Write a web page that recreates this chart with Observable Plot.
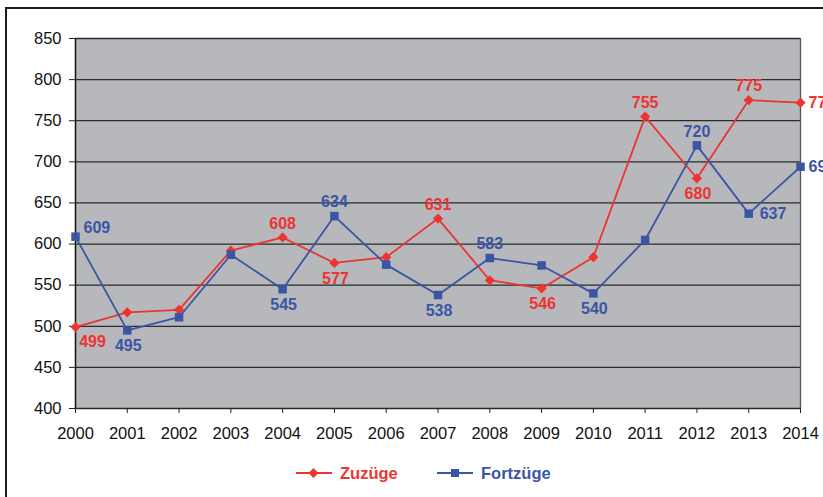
<!DOCTYPE html>
<html>
<head>
<meta charset="utf-8">
<script src="https://cdn.jsdelivr.net/npm/d3@7"></script>
<script src="https://cdn.jsdelivr.net/npm/@observablehq/plot@0.6"></script>
<style>
  html, body { margin: 0; padding: 0; background: #fff; overflow: hidden; }
  #wrap { position: relative; width: 823px; height: 497px; overflow: hidden; font-family: "Liberation Sans", Arial, sans-serif; }
  #frame { position: absolute; left: 5px; top: 7px; width: 2000px; height: 2000px; border-left: 2px solid #1a1a1a; border-top: 2px solid #1a1a1a; box-sizing: border-box; }
  #chart { position: absolute; left: 0; top: 0; }
  #legend { position: absolute; top: 461px; left: 0; width: 823px; height: 24px; }
  .item { position: absolute; top: 0; display: flex; align-items: center; font-weight: bold; font-size: 16.5px; }
  .item svg { margin-right: 8px; }
</style>
</head>
<body>
<div id="wrap">
  <div id="frame"></div>
  <div id="chart"></div>
  <div id="legend"></div>
</div>
<script>
// ---- data ----
const years = [2000, 2001, 2002, 2003, 2004, 2005, 2006, 2007, 2008, 2009, 2010, 2011, 2012, 2013, 2014];
const zuzuege = [499, 517, 520, 592, 608, 577, 584, 631, 556, 546, 584, 755, 680, 775, 772];
const fortzuege = [609, 495, 511, 587, 545, 634, 575, 538, 583, 574, 540, 605, 720, 637, 694];
const yTicks = [400, 450, 500, 550, 600, 650, 700, 750, 800, 850];
const seriesNames = ["Zuzüge", "Fortzüge"];
// years whose value is printed, per series
const zuzLabelled = [2000, 2004, 2005, 2007, 2009, 2011, 2012, 2013, 2014];
const fortLabelled = [2000, 2001, 2004, 2005, 2007, 2008, 2010, 2012, 2013, 2014];

// ---- styles ----
const RED = "#ec3431";
const BLUE = "#3b55a5";
const BG = "#b7b8bc";
// label placement (style, not data)
const zuzPlace = {2000: "br", 2004: "above", 2005: "below", 2007: "above", 2009: "below", 2011: "above", 2012: "below", 2013: "above", 2014: "right"};
const fortPlace = {2000: "ar", 2001: "below", 2004: "below", 2005: "above", 2007: "below", 2008: "above", 2010: "below", 2012: "above", 2013: "right2", 2014: "right"};
const placeStyle = {
  above: {dx: 0, dy: -14, textAnchor: "middle"},
  below: {dx: 1, dy: 15.5, textAnchor: "middle"},
  right: {dx: 8, dy: 0.5, textAnchor: "start"},
  right2: {dx: 11, dy: 0.5, textAnchor: "start"},
  br: {dx: 17, dy: 14.5, textAnchor: "middle"},
  ar: {dx: 8, dy: -9, textAnchor: "start"}
};

const zRows = years.map((y, i) => ({year: y, value: zuzuege[i], series: seriesNames[0]}));
const fRows = years.map((y, i) => ({year: y, value: fortzuege[i], series: seriesNames[1]}));

function labelMarks(rows, labelled, place, color) {
  const marks = [];
  for (const [key, st] of Object.entries(placeStyle)) {
    const sel = rows.filter(r => labelled.includes(r.year) && place[r.year] === key);
    if (!sel.length) continue;
    marks.push(Plot.text(sel, {
      x: "year", y: "value", text: d => String(d.value),
      fill: color, fontWeight: "bold", fontSize: 16,
      dx: st.dx, dy: st.dy, textAnchor: st.textAnchor
    }));
  }
  return marks;
}

const plot = Plot.plot({
  width: 823,
  height: 450,
  marginLeft: 75,
  marginRight: 23,
  marginTop: 38,
  marginBottom: 42,
  style: {fontFamily: "'Liberation Sans', Arial, sans-serif", fontSize: "16.5px", color: "#111", background: "transparent", overflow: "visible"},
  x: {domain: [2000, 2014]},
  y: {domain: [400, 850]},
  marks: [
    Plot.frame({fill: BG, stroke: null}),
    Plot.ruleY(yTicks, {stroke: "#2a2a2a", strokeWidth: 1.3}),
    Plot.ruleX([2014], {stroke: "#555", strokeWidth: 1.3}),
    Plot.ruleX([2000], {stroke: "#111", strokeWidth: 1.5}),
    Plot.axisX({ticks: years, tickFormat: d => String(d), tickSize: 5, tickPadding: 14, label: null, stroke: "#222"}),
    Plot.axisY({ticks: yTicks, tickSize: 6, tickPadding: 8, label: null, stroke: "#222"}),
    Plot.line(zRows, {x: "year", y: "value", stroke: RED, strokeWidth: 1.8}),
    Plot.line(fRows, {x: "year", y: "value", stroke: BLUE, strokeWidth: 1.8}),
    Plot.dot(zRows, {x: "year", y: "value", symbol: "diamond2", r: 4.6, fill: RED, stroke: null}),
    Plot.dot(fRows, {x: "year", y: "value", symbol: "square", r: 4.8, fill: BLUE, stroke: null}),
    ...labelMarks(zRows, zuzLabelled, zuzPlace, RED),
    ...labelMarks(fRows, fortLabelled, fortPlace, BLUE)
  ]
});
document.getElementById("chart").appendChild(plot);

// legend
const legend = document.getElementById("legend");
const items = [
  {name: seriesNames[0], color: RED, left: 296, symbol: "diamond"},
  {name: seriesNames[1], color: BLUE, left: 437, symbol: "square"}
];
for (const it of items) {
  const div = document.createElement("div");
  div.className = "item";
  div.style.left = it.left + "px";
  div.style.color = it.color;
  const sym = it.symbol === "diamond"
    ? `<path d="M17.5,7 L22.5,12 L17.5,17 L12.5,12 Z" fill="${it.color}"/>`
    : `<rect x="14" y="8" width="8" height="8" fill="${it.color}"/>`;
  div.innerHTML = `<svg width="36" height="24"><line x1="0" y1="12" x2="36" y2="12" stroke="${it.color}" stroke-width="1.8"/>${sym}</svg><span>${it.name}</span>`;
  legend.appendChild(div);
}
</script>
</body>
</html>
